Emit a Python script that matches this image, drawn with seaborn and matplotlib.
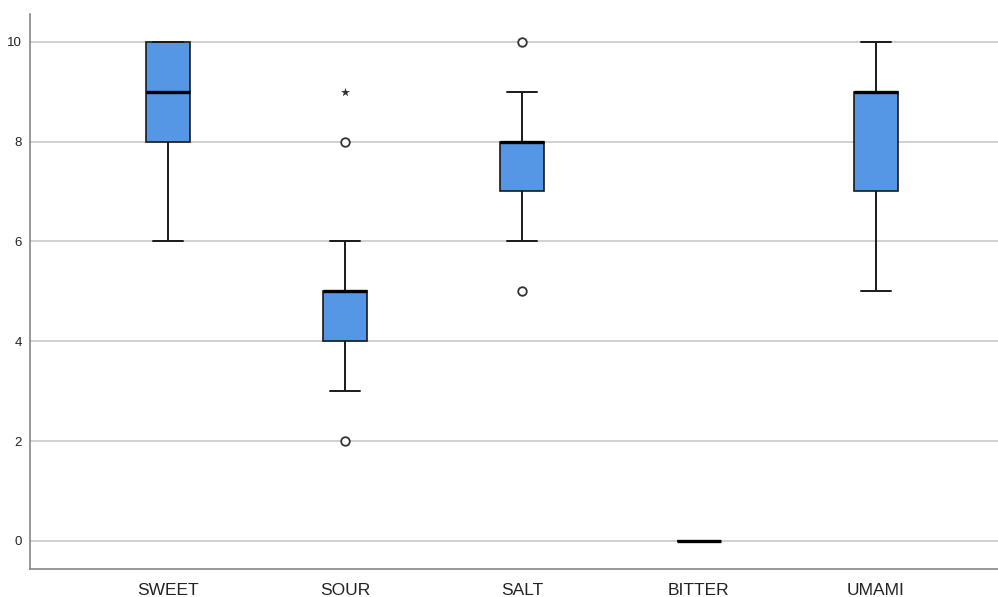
import numpy as np
import pandas as pd
import seaborn as sns
import matplotlib.pyplot as plt

# raw scores per taste (chosen so quartiles/whiskers match the chart)
sweet = [6, 7, 8, 8, 8, 8, 9, 9, 9, 9, 9, 9, 10, 10, 10, 10, 10, 10, 10, 10]
sour = [2, 3, 4, 4, 4, 4, 5, 5, 5, 5, 5, 5, 5, 5, 5, 5, 5, 6, 8, 9]
salt = [5, 6, 7, 7, 7, 7, 8, 8, 8, 8, 8, 8, 8, 8, 8, 8, 8, 9, 9, 10]
bitter = [0] * 20
umami = [5, 6, 7, 7, 7, 7, 8, 8, 9, 9, 9, 9, 9, 9, 9, 9, 10, 10, 10, 10]

tastes = ['SWEET', 'SOUR', 'SALT', 'BITTER', 'UMAMI']
yticks = [0, 2, 4, 6, 8, 10]

df = pd.DataFrame({
    'taste': np.repeat(tastes, 20),
    'score': sweet + sour + salt + bitter + umami,
})

sns.set_style("white")
plt.rcParams['font.family'] = ['Liberation Sans', 'DejaVu Sans']

fig = plt.figure(figsize=(9.98, 5.97), dpi=100)
ax = fig.add_axes([0.030, 0.047, 0.970, 0.930])

ax.set_axisbelow(True)
ax.yaxis.grid(True, color='#c8c8c8', linewidth=1.2)

sns.boxplot(data=df, x='taste', y='score', order=tastes, ax=ax,
            color='#5596e5', saturation=1, width=0.245, showfliers=False,
            linecolor='#1a1a1a', linewidth=1.2, capwidths=0.17,
            medianprops={'color': 'black', 'linewidth': 2.4},
            capprops={'linewidth': 1.4}, whiskerprops={'linewidth': 1.4})

# SPSS style outliers: circles beyond 1.5 IQR, stars beyond 3 IQR
for i, t in enumerate(tastes):
    v = np.array(df.loc[df.taste == t, 'score'])
    q1, q3 = np.percentile(v, [25, 75])
    iqr = q3 - q1
    far = v[(v > q3 + 3 * iqr) | (v < q1 - 3 * iqr)]
    out = v[((v > q3 + 1.5 * iqr) | (v < q1 - 1.5 * iqr))
            & ~np.isin(v, far)]
    out = np.unique(out)
    far = np.unique(far)
    ax.scatter([i] * len(out), out, s=38, facecolors='white',
               edgecolors='#333333', linewidths=1.3, zorder=5)
    ax.scatter([i] * len(far), far, s=45, marker='*', color='#333333',
               linewidths=0, zorder=5)

ax.set_xlim(-0.78, 4.69)
ax.set_ylim(-0.56, 10.56)
ax.set_yticks(yticks)
ax.set_yticklabels([str(t) for t in yticks])
ax.tick_params(axis='y', length=0, pad=6, labelsize=9.5, colors='#222222')
ax.tick_params(axis='x', length=0, pad=10, labelsize=12.5, colors='#222222')
ax.set_xlabel('')
ax.set_ylabel('')

for s in ['top', 'right']:
    ax.spines[s].set_visible(False)
for s in ['left', 'bottom']:
    ax.spines[s].set_color('#888888')
    ax.spines[s].set_linewidth(1.2)

plt.savefig('out.png', dpi=100)
